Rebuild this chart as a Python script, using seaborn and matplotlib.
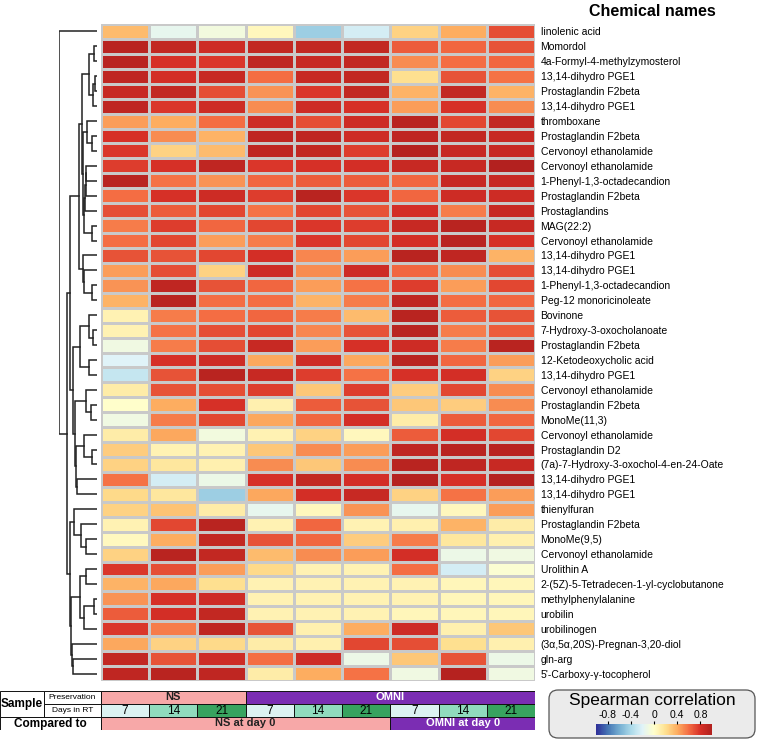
# Clustered heatmap of Spearman correlations (chemicals x samples)

import matplotlib
matplotlib.use("Agg")
import matplotlib.pyplot as plt
from matplotlib.colors import LinearSegmentedColormap
from matplotlib.patches import Rectangle, FancyBboxPatch
import numpy as np
import pandas as pd
import seaborn as sns

chem_names = [
    "linolenic acid", "Momordol", "4a-Formyl-4-methylzymosterol", "13,14-dihydro PGE1",
    "Prostaglandin F2beta", "13,14-dihydro PGE1", "thromboxane", "Prostaglandin F2beta",
    "Cervonoyl ethanolamide", "Cervonoyl ethanolamide", "1-Phenyl-1,3-octadecandion",
    "Prostaglandin F2beta", "Prostaglandins", "MAG(22:2)", "Cervonoyl ethanolamide",
    "13,14-dihydro PGE1", "13,14-dihydro PGE1", "1-Phenyl-1,3-octadecandion",
    "Peg-12 monoricinoleate", "Bovinone", "7-Hydroxy-3-oxocholanoate", "Prostaglandin F2beta",
    "12-Ketodeoxycholic acid", "13,14-dihydro PGE1", "Cervonoyl ethanolamide",
    "Prostaglandin F2beta", "MonoMe(11,3)", "Cervonoyl ethanolamide", "Prostaglandin D2",
    "(7a)-7-Hydroxy-3-oxochol-4-en-24-Oate", "13,14-dihydro PGE1", "13,14-dihydro PGE1",
    "thienylfuran", "Prostaglandin F2beta", "MonoMe(9,5)", "Cervonoyl ethanolamide",
    "Urolithin A", "2-(5Z)-5-Tetradecen-1-yl-cyclobutanone", "methylphenylalanine",
    "urobilin", "urobilinogen", "(3\u03b1,5\u03b1,20S)-Pregnan-3,20-diol", "gln-arg",
    "5'-Carboxy-\u03b3-tocopherol",
]

corr = [
    [0.35, -0.15, -0.08, 0.05, -0.45, -0.25, 0.25, 0.40, 0.70],
    [0.95, 0.90, 0.85, 0.90, 0.90, 0.90, 0.65, 0.62, 0.68],
    [0.95, 0.80, 0.78, 0.92, 0.88, 0.90, 0.50, 0.60, 0.62],
    [0.92, 0.82, 0.88, 0.60, 0.88, 0.90, 0.20, 0.68, 0.58],
    [0.88, 0.90, 0.70, 0.48, 0.78, 0.90, 0.38, 0.90, 0.38],
    [0.92, 0.78, 0.85, 0.50, 0.85, 0.80, 0.45, 0.80, 0.50],
    [0.45, 0.40, 0.60, 0.85, 0.70, 0.85, 0.95, 0.72, 0.90],
    [0.80, 0.50, 0.38, 0.92, 0.92, 0.85, 0.92, 0.90, 0.88],
    [0.78, 0.25, 0.35, 0.92, 0.90, 0.75, 0.97, 0.88, 0.88],
    [0.75, 0.80, 0.92, 0.78, 0.80, 0.82, 0.88, 0.88, 0.98],
    [0.95, 0.58, 0.48, 0.62, 0.65, 0.65, 0.62, 0.88, 0.88],
    [0.60, 0.80, 0.85, 0.75, 0.95, 0.78, 0.62, 0.85, 0.85],
    [0.70, 0.65, 0.72, 0.58, 0.72, 0.68, 0.82, 0.55, 0.88],
    [0.55, 0.75, 0.62, 0.72, 0.78, 0.75, 0.88, 0.95, 0.88],
    [0.60, 0.72, 0.45, 0.55, 0.78, 0.72, 0.82, 0.95, 0.80],
    [0.68, 0.68, 0.72, 0.82, 0.52, 0.45, 0.95, 0.92, 0.38],
    [0.45, 0.70, 0.25, 0.85, 0.50, 0.85, 0.62, 0.50, 0.70],
    [0.48, 0.92, 0.68, 0.62, 0.45, 0.58, 0.75, 0.45, 0.72],
    [0.38, 0.95, 0.60, 0.60, 0.38, 0.55, 0.92, 0.60, 0.62],
    [0.08, 0.55, 0.60, 0.62, 0.55, 0.35, 0.95, 0.65, 0.68],
    [0.08, 0.58, 0.70, 0.72, 0.52, 0.68, 0.95, 0.55, 0.65],
    [-0.10, 0.55, 0.70, 0.88, 0.45, 0.80, 0.85, 0.55, 0.95],
    [-0.20, 0.80, 0.85, 0.42, 0.85, 0.42, 0.95, 0.62, 0.45],
    [-0.30, 0.68, 0.95, 0.88, 0.75, 0.58, 0.80, 0.82, 0.25],
    [0.12, 0.68, 0.70, 0.75, 0.30, 0.75, 0.28, 0.72, 0.50],
    [0.00, 0.40, 0.80, 0.10, 0.65, 0.68, 0.30, 0.28, 0.50],
    [-0.10, 0.55, 0.72, 0.42, 0.62, 0.82, 0.12, 0.65, 0.62],
    [0.12, 0.42, -0.08, 0.08, 0.25, 0.05, 0.65, 0.82, 0.72],
    [0.28, 0.08, 0.08, 0.30, 0.50, 0.45, 0.92, 0.95, 0.95],
    [0.25, 0.15, 0.10, 0.50, 0.30, 0.50, 0.95, 0.92, 0.88],
    [0.58, -0.25, -0.12, 0.80, 0.90, 0.82, 0.97, 0.80, 0.97],
    [0.22, 0.15, -0.45, 0.42, 0.82, 0.88, 0.25, 0.58, 0.45],
    [0.25, 0.32, 0.12, -0.15, 0.05, 0.48, -0.15, 0.05, 0.45],
    [0.08, 0.72, 0.95, 0.08, 0.62, 0.08, 0.10, 0.38, 0.12],
    [0.04, 0.40, 0.90, 0.68, 0.62, 0.28, 0.55, 0.15, 0.10],
    [0.25, 0.95, 0.90, 0.35, 0.50, 0.45, 0.82, -0.12, -0.10],
    [0.78, 0.70, 0.45, 0.22, 0.08, 0.08, 0.60, -0.25, -0.03],
    [0.38, 0.42, 0.20, 0.08, 0.08, 0.08, 0.08, 0.06, 0.06],
    [0.48, 0.80, 0.85, 0.08, 0.08, 0.08, 0.08, 0.06, 0.06],
    [0.65, 0.82, 0.90, 0.08, 0.08, 0.08, 0.06, 0.06, 0.06],
    [0.78, 0.55, 0.92, 0.68, 0.10, 0.40, 0.85, 0.10, 0.30],
    [0.42, 0.25, 0.22, 0.12, 0.10, 0.72, 0.70, 0.20, 0.10],
    [0.90, 0.68, 0.85, 0.60, 0.85, -0.12, 0.30, 0.68, -0.12],
    [0.92, 0.95, 0.92, 0.12, 0.40, 0.58, -0.10, 0.97, -0.10],
]

preservation = ["NS", "NS", "NS", "OMNI", "OMNI", "OMNI", "OMNI", "OMNI", "OMNI"]
days_in_rt = [7, 14, 21, 7, 14, 21, 7, 14, 21]
compared_to = ["NS at day 0"] * 6 + ["OMNI at day 0"] * 3

# row dendrogram: (height, left, right), leaves are 1-based row numbers
row_tree = (1.0, 1, (0.79,
    (0.70,
        (0.48,
            (0.40,
                (0.22, (0.08, 2, 3), (0.10, (0.05, 4, 5), 6)),
                (0.36, (0.26, 7, (0.12, 8, 9)),
                       (0.33, (0.31, (0.30, (0.28, 10, 11), 12), 13), (0.12, 14, 15)))),
            (0.36, 16, (0.33, 17, (0.12, 18, 19)))),
        (0.64,
            (0.45, (0.20, 20, (0.10, 21, 22)), (0.22, 23, 24)),
            (0.58, (0.30, 25, (0.15, 26, 27)),
                   (0.56, (0.35, 28, (0.12, 29, 30)), (0.52, 31, 32))))),
    (0.72,
        (0.60, 33, (0.42, 34, (0.30, 35, 36))),
        (0.68, (0.45, (0.30, 37, 38), (0.35, (0.08, 39, 40), 41)),
               (0.65, 42, (0.62, 43, 44))))))

pres_colors = {"NS": "#f7a8a8", "OMNI": "#7b2db3"}
pres_text = {"NS": "#222222", "OMNI": "white"}
day_colors = {7: "#dcf2f1", 14: "#90dbbd", 21: "#38a35f"}
comp_colors = {"NS at day 0": "#f7a8a8", "OMNI at day 0": "#7b2db3"}
comp_text = {"NS at day 0": "#222222", "OMNI at day 0": "white"}

cmap = LinearSegmentedColormap.from_list("corr", [
    "#2e2e98", "#4575b4", "#74add1", "#abd9e9", "#e0f3f8", "#ffffcc",
    "#fee090", "#fdae61", "#f46d43", "#d73027", "#b0201e"])

plt.rcParams["font.family"] = ["Liberation Sans", "DejaVu Sans"]

W, H = 759, 740
fig = plt.figure(figsize=(W / 100, H / 100), dpi=100)


def px(x0, y0, x1, y1):
    return [x0 / W, 1 - y1 / H, (x1 - x0) / W, (y1 - y0) / H]


df = pd.DataFrame(corr, index=chem_names)
ax = fig.add_axes(px(101, 24, 535, 681))
sns.heatmap(df, ax=ax, cmap=cmap, vmin=-1, vmax=1, cbar=False,
            linewidths=0.8, linecolor="#c9c9c9", xticklabels=False,
            yticklabels=chem_names)
ax.yaxis.tick_right()
ax.tick_params(axis="y", length=0, pad=4, labelsize=7.5)
plt.setp(ax.get_yticklabels(), rotation=0)
ax.set_ylabel("")
fig.text(652 / W, 1 - 11 / H, "Chemical names", ha="center", va="center",
         fontsize=11.5, fontweight="bold")

# dendrogram
dax = fig.add_axes(px(59, 24, 97, 681))
dax.set_xlim(1.0, 0.0)
dax.set_ylim(len(chem_names), 0)
dax.axis("off")


def draw_tree(node):
    if isinstance(node, int):
        return node - 0.5, 0.0
    h, left, right = node
    y1, h1 = draw_tree(left)
    y2, h2 = draw_tree(right)
    dax.plot([h1, h, h, h2], [y1, y1, y2, y2], color="#222222", lw=1.1,
             solid_joinstyle="miter")
    return (y1 + y2) / 2, h


draw_tree(row_tree)

# sample annotation table
aax = fig.add_axes(px(0, 691, 535, 730))
lab_w = 101 / ((535 - 101) / 9)
aax.set_xlim(-lab_w, 9)
aax.set_ylim(3, 0)
aax.axis("off")
ec = dict(edgecolor="#111111", linewidth=0.7)
split = -lab_w + 44 / ((535 - 101) / 9)


def runs(vals):
    out, start = [], 0
    for i in range(1, len(vals) + 1):
        if i == len(vals) or vals[i] != vals[start]:
            out.append((vals[start], start, i))
            start = i
    return out


aax.add_patch(Rectangle((-lab_w, 0), split + lab_w, 2, facecolor="white", **ec))
aax.text((-lab_w + split) / 2, 1, "Sample", ha="center", va="center",
         fontsize=8.5, fontweight="bold")
aax.add_patch(Rectangle((split, 0), -split, 1, facecolor="white", **ec))
aax.text(split / 2, 0.5, "Preservation", ha="center", va="center", fontsize=6)
aax.add_patch(Rectangle((split, 1), -split, 1, facecolor="white", **ec))
aax.text(split / 2, 1.5, "Days in RT", ha="center", va="center", fontsize=6)
aax.add_patch(Rectangle((-lab_w, 2), lab_w, 1, facecolor="white", **ec))
aax.text(-lab_w / 2, 2.5, "Compared to", ha="center", va="center",
         fontsize=8.5, fontweight="bold")

for name, s, e in runs(preservation):
    aax.add_patch(Rectangle((s, 0), e - s, 1, facecolor=pres_colors[name], **ec))
    aax.text((s + e) / 2, 0.5, name, ha="center", va="center", fontsize=8,
             fontweight="bold", color=pres_text[name])
for i, d in enumerate(days_in_rt):
    aax.add_patch(Rectangle((i, 1), 1, 1, facecolor=day_colors[d], **ec))
    aax.text(i + 0.5, 1.5, str(d), ha="center", va="center", fontsize=8.5)
for name, s, e in runs(compared_to):
    aax.add_patch(Rectangle((s, 2), e - s, 1, facecolor=comp_colors[name], **ec))
    aax.text((s + e) / 2, 2.5, name, ha="center", va="center", fontsize=8,
             fontweight="bold", color=comp_text[name])

# legend box (behind the colorbar axes)
box = FancyBboxPatch((549 / W, 1 - 738 / H), 206 / W, 48 / H,
                     boxstyle="round,pad=0,rounding_size=0.012",
                     transform=fig.transFigure, facecolor="#ebebeb",
                     edgecolor="#555555", linewidth=0.9, zorder=-1)
fig.patches.append(box)
fig.text(652 / W, 1 - 700 / H, "Spearman correlation", ha="center", va="center",
         fontsize=12.5)
cax = fig.add_axes(px(596, 724, 712, 735))
cb = fig.colorbar(ax.collections[0], cax=cax, orientation="horizontal",
                  ticks=[-0.8, -0.4, 0, 0.4, 0.8])
cb.outline.set_visible(False)
cax.xaxis.set_ticks_position("top")
cax.tick_params(axis="x", length=2.5, width=0.8, pad=0.5, labelsize=7.5)
cb.set_ticklabels(["-0.8", "-0.4", "0", "0.4", "0.8"])

fig.savefig("out.png", dpi=100)
